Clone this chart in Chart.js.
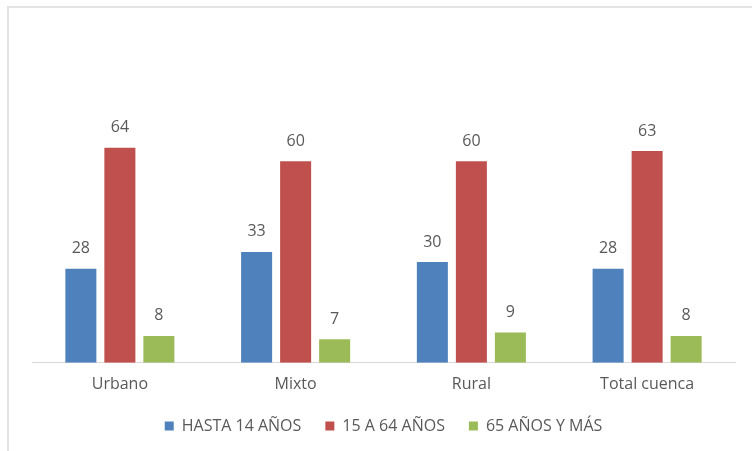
<!DOCTYPE html>
<html>
<head>
<meta charset="utf-8">
<script src="https://cdn.jsdelivr.net/npm/chart.js@4.4.0/dist/chart.umd.min.js"></script>
<style>
  html, body { margin: 0; padding: 0; background: #fff; }
  #wrap { position: relative; width: 752px; height: 451px; overflow: hidden; }
  #frame { position: absolute; left: 7px; top: 6px; width: 800px; height: 500px;
           border-left: 2px solid #e3e3e3; border-top: 2px solid #e3e3e3; }
  canvas { position: absolute; left: 0; top: 0; }
</style>
</head>
<body>
<div id="wrap">
  <div id="frame"></div>
  <canvas id="chart" width="752" height="451"></canvas>
</div>
<script>
const categories = ["Urbano", "Mixto", "Rural", "Total cuenca"];
const seriesNames = ["HASTA 14 AÑOS", "15 A 64 AÑOS", "65 AÑOS Y MÁS"];
const hasta14 = [28, 33, 30, 28];
const de15a64 = [64, 60, 60, 63];
const mas65 = [8, 7, 9, 8];
const colors = ["#4F81BD", "#C0504D", "#9BBB59"];

const labelFont = "'Open Sans', 'Noto Sans', sans-serif";

// draws the value above each bar
const valueLabels = {
    id: 'valueLabels',
    afterDatasetsDraw(chart) {
        const ctx = chart.ctx;
        ctx.save();
        ctx.font = "16px " + labelFont;
        ctx.fillStyle = "#595959";
        ctx.textAlign = "center";
        ctx.textBaseline = "middle";
        chart.data.datasets.forEach((ds, i) => {
            chart.getDatasetMeta(i).data.forEach((bar, j) => {
                ctx.fillText(ds.data[j], bar.x, bar.y - 20);
            });
        });
        ctx.restore();
    }
};

new Chart(document.getElementById("chart").getContext("2d"), {
    type: 'bar',
    data: {
        labels: categories,
        datasets: [
            {label: seriesNames[0], data: hasta14, backgroundColor: colors[0]},
            {label: seriesNames[1], data: de15a64, backgroundColor: colors[1]},
            {label: seriesNames[2], data: mas65, backgroundColor: colors[2]}
        ]
    },
    options: {
        responsive: false,
        animation: false,
        layout: {padding: {left: 32, right: 17, top: 94, bottom: 7}},
        datasets: {bar: {categoryPercentage: 0.666, barPercentage: 0.795}},
        scales: {
            x: {
                grid: {display: false},
                border: {color: "#d9d9d9", width: 1},
                ticks: {color: "#595959", font: {family: labelFont, size: 16}, padding: 4},
                afterFit: (scale) => { scale.height -= 4; }
            },
            y: {display: false, min: 0, max: 80}
        },
        plugins: {
            legend: {
                position: 'bottom',
                labels: {
                    color: "#595959",
                    font: {family: labelFont, size: 16, lineHeight: 1},
                    boxWidth: 9,
                    boxHeight: 9,
                    padding: 24
                }
            },
            tooltip: {enabled: false}
        }
    },
    plugins: [valueLabels]
});
</script>
</body>
</html>
